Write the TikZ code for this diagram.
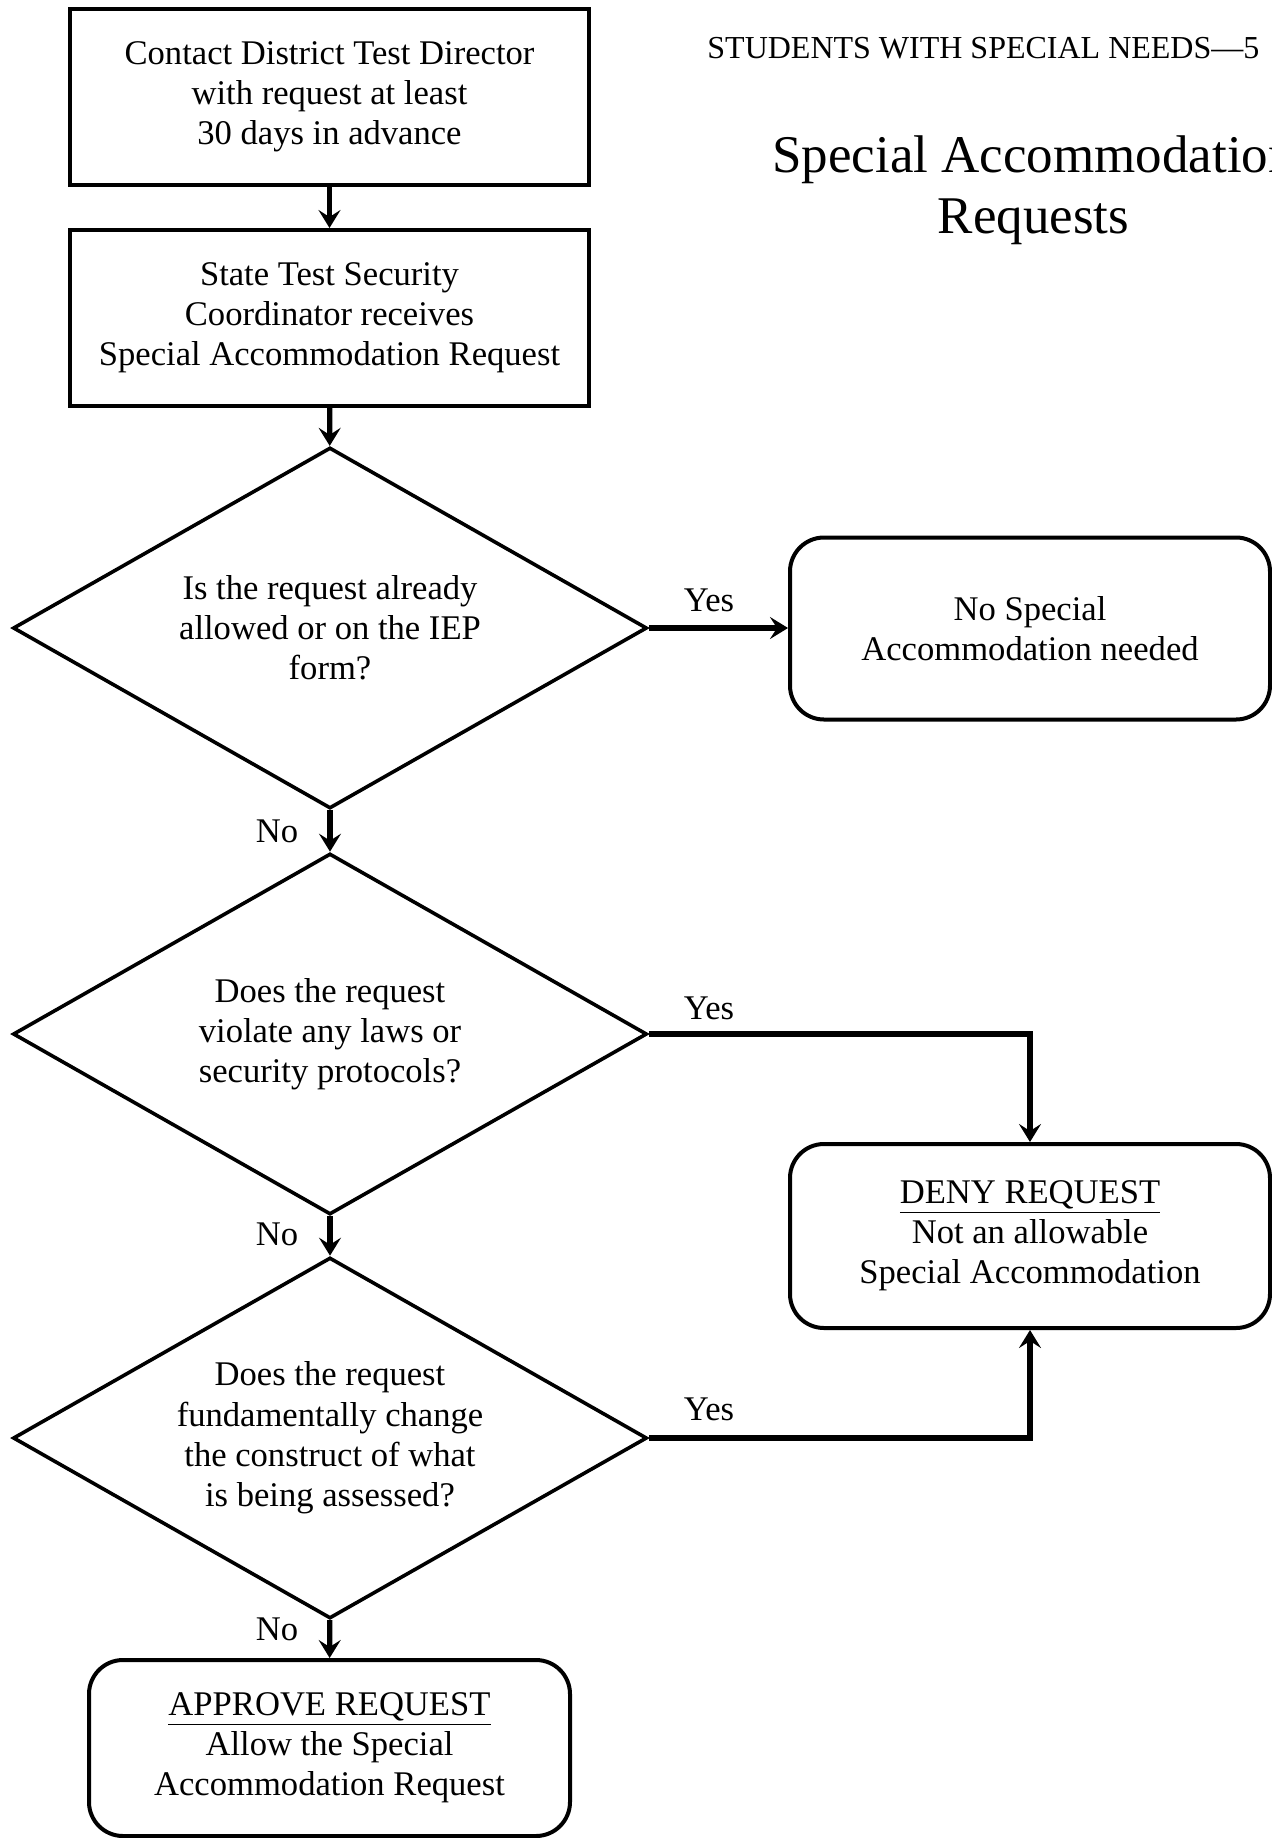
\documentclass[tikz,border=0pt]{standalone}
\usepackage{fontspec}
\setmainfont{Liberation Serif}
\usetikzlibrary{shapes.geometric,arrows.meta}
\begin{document}
\begin{tikzpicture}[x=0.5pt,y=-0.5pt,
  txt/.style={font=\fontsize{17.3pt}{20.1pt}\selectfont, align=center},
  sqbox/.style={txt, draw, line width=2pt, minimum width=259.5pt, minimum height=88pt, inner sep=0pt},
  rbox/.style={txt, draw, line width=2pt, rounded corners=17pt, minimum width=240pt, minimum height=91pt, inner sep=0pt},
  dec/.style={txt, draw, diamond, aspect=1.756, line width=1.8pt, minimum width=317pt, minimum height=180.5pt, inner sep=0pt},
  arr/.style={line width=2.6pt, -{Stealth[length=9pt,width=11pt,inset=3.5pt]}},
  lbl/.style={txt, inner sep=0pt, anchor=base}]
\useasboundingbox (0,0) rectangle (1272,1838);
\clip (0,0) rectangle (1272,1838);

% header and title
\node[anchor=base west, inner sep=0pt, font=\fontsize{16pt}{19pt}\selectfont] (hdr) at (707,58) {STUDENTS WITH SPECIAL NEEDS---5};
\node[anchor=base, inner sep=0pt, font=\fontsize{26.5pt}{30.5pt}\selectfont] (t1) at (1033.5,172) {Special Accommodation};
\node[anchor=base, inner sep=0pt, font=\fontsize{26.5pt}{30.5pt}\selectfont] (t2) at (1033.5,233) {Requests};

% nodes
\node[sqbox] (b1) at (329.5,97) {Contact District Test Director\\with request at least\\30 days in advance};
\node[sqbox] (b2) at (329.5,318) {State Test Security\\Coordinator receives\\Special Accommodation Request};
\node[dec] (d1) at (330,628) {Is the request already\\allowed or on the IEP\\form?};
\node[dec] (d2) at (330,1034) {Does the request\\violate any laws or\\security protocols?};
\node[dec] (d3) at (330,1438) {Does the request\\fundamentally change\\the construct of what\\is being assessed?};
\node[rbox] (r1) at (1030,628.5) {No Special\\Accommodation needed};
\node[rbox, minimum height=92pt] (deny) at (1030,1236) {\underline{DENY REQUEST}\\Not an allowable\\Special Accommodation};
\node[rbox, minimum width=240.5pt, minimum height=88pt] (ap) at (329.5,1748) {\underline{APPROVE REQUEST}\\Allow the Special\\Accommodation Request};

% connectors
\draw[arr] (b1) -- (b2);
\draw[arr] (b2) -- (d1);
\draw[arr] (d1.east) -- (d1.east -| r1.west);
\draw[arr] (d1) -- (d2);
\draw[arr] (d2) -- (d3);
\draw[arr] (d3) -- (ap);
\draw[arr] (d2.east) -| (deny.north);
\draw[arr] (d3.east) -| (deny.south);

% labels
\node[lbl] (y1) at (709,611) {Yes};
\node[lbl] (y2) at (709,1019) {Yes};
\node[lbl] (y3) at (709,1420) {Yes};
\node[lbl] (n1) at (277,842) {No};
\node[lbl] (n2) at (277,1245) {No};
\node[lbl] (n3) at (277,1640) {No};
\end{tikzpicture}
\end{document}
